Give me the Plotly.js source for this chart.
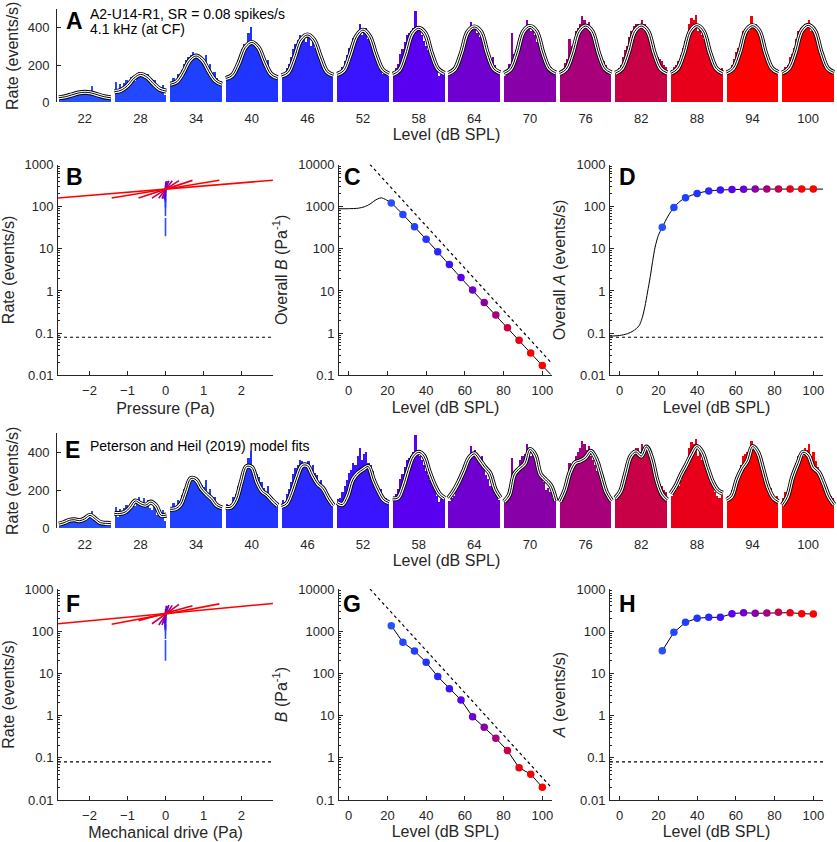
<!DOCTYPE html>
<html>
<head>
<meta charset="utf-8">
<script src="https://cdn.plot.ly/plotly-3.0.1.min.js"></script>
<style>
  body { margin: 0; background: #fff; }
  #chart { width: 837px; height: 842px; }
</style>
</head>
<body>
<div id="chart"></div>
<script>
// sound levels (dB SPL) and the colour used for each level
const levels = [22, 28, 34, 40, 46, 52, 58, 64, 70, 76, 82, 88, 94, 100];
const levelColors = ["#2850ff", "#2448ff", "#2040ff", "#2035ff", "#2a28ff", "#3a14ff", "#5a00f0",
                     "#7000d0", "#8800a8", "#a8007a", "#c80045", "#e8001a", "#ff0000", "#ff0000"];

// period histograms (events/s), one per level, 24 bins over one cycle
const hist22  = [18, 22, 30, 40, 48, 45, 35, 52, 45, 50, 48, 55, 50, 60, 58, 90, 48, 52, 40, 35, 30, 32, 25, 22];
const hist28  = [110, 62, 100, 75, 105, 120, 95, 135, 140, 115, 150, 165, 135, 160, 125, 150, 105, 95, 118, 72, 88, 62, 95, 40];
const hist34  = [100, 132, 96, 150, 145, 175, 205, 228, 245, 255, 268, 262, 250, 242, 230, 215, 252, 180, 205, 150, 165, 130, 102, 112];
const hist40  = [130, 118, 128, 165, 182, 225, 245, 285, 315, 300, 372, 405, 322, 305, 285, 270, 245, 210, 182, 225, 160, 150, 142, 128];
const hist46  = [150, 138, 182, 205, 245, 285, 315, 335, 362, 352, 342, 322, 355, 302, 335, 290, 282, 240, 252, 205, 182, 170, 150, 140];
const hist52  = [152, 160, 192, 222, 252, 292, 305, 345, 332, 382, 422, 362, 392, 402, 342, 332, 302, 262, 222, 182, 205, 152, 162, 140];
const hist58  = [160, 182, 205, 262, 285, 325, 362, 372, 382, 402, 492, 412, 382, 362, 332, 302, 282, 252, 222, 232, 172, 140, 152, 160];
const hist64  = [145, 162, 172, 205, 232, 262, 302, 335, 362, 382, 432, 402, 412, 372, 352, 382, 332, 282, 262, 222, 242, 202, 172, 150];
const hist70  = [142, 152, 205, 372, 262, 282, 312, 362, 382, 392, 442, 422, 382, 402, 362, 322, 302, 272, 242, 202, 212, 192, 162, 172];
const hist76  = [150, 172, 212, 232, 342, 302, 322, 382, 402, 422, 462, 442, 412, 432, 382, 362, 332, 302, 272, 232, 222, 202, 162, 152];
const hist82  = [162, 182, 202, 242, 282, 302, 352, 382, 412, 422, 422, 402, 442, 422, 402, 382, 352, 302, 272, 242, 232, 222, 202, 192];
const hist88  = [172, 192, 202, 222, 252, 292, 332, 362, 422, 452, 442, 472, 382, 402, 362, 342, 302, 282, 252, 222, 192, 172, 162, 182];
const hist94  = [172, 152, 202, 232, 272, 292, 332, 382, 392, 402, 382, 462, 412, 422, 372, 352, 332, 302, 262, 232, 212, 182, 162, 172];
const hist100 = [162, 192, 202, 242, 262, 292, 342, 382, 402, 382, 422, 412, 442, 382, 402, 352, 322, 292, 252, 232, 202, 182, 172, 162];
const histograms = [hist22, hist28, hist34, hist40, hist46, hist52, hist58, hist64, hist70, hist76, hist82, hist88, hist94, hist100];

// panel A fits, sampled at 9 points across the cycle
const fitA = [
  [25, 30, 40, 50, 54, 50, 40, 30, 25],           // 22
  [57, 65, 90, 130, 150, 135, 100, 70, 60],       // 28
  [97, 110, 160, 225, 249, 225, 165, 115, 97],    // 34
  [128, 145, 210, 295, 322, 295, 215, 150, 132],  // 40
  [142, 160, 240, 335, 362, 335, 245, 165, 145],  // 46
  [150, 170, 255, 355, 388, 355, 255, 175, 152],  // 52
  [150, 172, 260, 370, 398, 370, 260, 178, 155],  // 58
  [155, 178, 265, 378, 405, 378, 265, 180, 158],  // 64
  [155, 178, 265, 380, 408, 380, 265, 180, 158],  // 70
  [155, 178, 265, 380, 410, 380, 265, 180, 158],  // 76
  [156, 180, 266, 382, 410, 382, 266, 181, 158],  // 82
  [156, 180, 266, 382, 412, 382, 266, 181, 158],  // 88
  [158, 182, 268, 384, 412, 384, 266, 182, 160],  // 94
  [158, 182, 268, 384, 414, 384, 268, 182, 160]   // 100
];

// panel E model fits, sampled at 11 points across the cycle
const fitE = [
  [22, 30, 42, 45, 40, 50, 68, 50, 30, 26, 25],              // 22
  [78, 78, 85, 110, 144, 130, 122, 138, 118, 68, 70],        // 28
  [100, 103, 125, 195, 262, 255, 210, 180, 155, 120, 108],   // 34
  [110, 112, 150, 245, 325, 320, 245, 195, 175, 145, 120],   // 40
  [115, 130, 190, 270, 330, 330, 280, 235, 210, 160, 120],   // 46
  [135, 125, 170, 255, 290, 310, 325, 255, 195, 150, 135],   // 52
  [155, 160, 220, 310, 380, 400, 380, 300, 230, 180, 158],   // 58
  [158, 195, 245, 305, 370, 392, 360, 322, 290, 205, 160],   // 64
  [140, 175, 285, 315, 340, 415, 385, 285, 255, 225, 145],   // 70
  [140, 200, 295, 345, 355, 372, 405, 365, 280, 190, 145],   // 76
  [158, 195, 290, 380, 402, 380, 428, 370, 255, 180, 150],   // 82
  [182, 225, 285, 335, 390, 430, 400, 320, 245, 200, 185],   // 88
  [148, 170, 255, 315, 355, 430, 400, 310, 215, 160, 140],   // 94
  [122, 167, 270, 340, 400, 385, 320, 295, 235, 165, 125]    // 100
];

// peak pressure (Pa) at each level, and rate range of each fitted line
const pPeak = [0.000356, 0.00071, 0.00142, 0.00283, 0.00564, 0.01126, 0.0225,
               0.0448, 0.0894, 0.178, 0.356, 0.710, 1.417, 2.828];
const rateLoB = [20, 60, 95, 125, 140, 148, 152, 155, 155, 158, 160, 160, 160, 160];
const rateHiB = [54, 150, 250, 322, 362, 388, 398, 405, 410, 412, 415, 420, 422, 424];
const rateLoF = [20, 65, 100, 110, 115, 125, 155, 155, 140, 140, 150, 178, 146, 150];
const rateHiF = [62, 145, 268, 335, 330, 330, 400, 395, 420, 410, 430, 403, 445, 455];
const spontRate = 0.08;

// overall B and A (panels C, D) and model B and A (panels G, H)
const overallB = [1217, 656, 335, 168, 85, 42.3, 21, 10.6, 5.3, 2.7, 1.34, 0.68, 0.34, 0.17];
const overallA = [32.5, 96, 163, 206, 235, 247, 256, 260, 261, 261, 261, 261, 261, 261];
const modelB = [1350, 545, 340, 183, 84, 43.5, 23.5, 9.4, 5.3, 2.9, 1.48, 0.58, 0.41, 0.20];
const modelA = [34.6, 94, 162, 202, 213, 213, 260, 275, 265, 270, 280, 275, 260, 255];

// smooth fitted curves in C and D
const curveCx = [-5, 0, 5, 8, 11, 13, 15, 17, 19, 22, 40, 60, 80, 100, 104.3];
const curveCy = [890, 895, 920, 990, 1150, 1350, 1530, 1620, 1480, 1217, 168, 16.2, 1.66, 0.17, 0.105];
const curveDx = [-5, 0, 4, 7, 10, 11.5, 13, 14.4, 15.8, 17, 18.3, 20, 22, 25, 28, 31, 34, 40, 46, 52, 60, 70, 105];
const curveDy = [0.085, 0.088, 0.097, 0.113, 0.15, 0.22, 0.42, 0.95, 2.2, 5, 11, 21, 32.5, 60, 96, 132, 163, 206, 235, 247, 256, 260, 261];

// 1/p reference line in C and G
const refX = [11, 105];
const refY = [10000, 0.19];

const W = 837, H = 842;
const FONT = "Liberation Sans, Arial, Helvetica, sans-serif";
const INK = "#262626";
const px = (a, b) => [a / W, b / W];
const py = (top, bottom) => [1 - bottom / H, 1 - top / H];

const groupW = 0.93;
const traces = [];

function histPanel(xa, ya, fits) {
  const x = [], y = [], c = [];
  histograms.forEach((h, i) => {
    h.forEach((v, j) => {
      x.push(i - groupW / 2 + (j + 0.5) * groupW / h.length);
      y.push(v);
      c.push(levelColors[i]);
    });
  });
  traces.push({ type: "bar", x, y, width: groupW / hist22.length, xaxis: xa, yaxis: ya,
                marker: { color: c, line: { width: 0 } }, hoverinfo: "skip", showlegend: false });

  const fx = [], fy = [];
  fits.forEach((f, i) => {
    f.forEach((v, k) => {
      fx.push(i - groupW / 2 + k * groupW / (f.length - 1));
      fy.push(v);
    });
    fx.push(null); fy.push(null);
  });
  [["black", 5], ["white", 3.2], ["black", 1]].forEach(([col, w]) => {
    traces.push({ type: "scatter", mode: "lines", x: fx, y: fy, xaxis: xa, yaxis: ya,
                  line: { color: col, width: w, shape: "spline", smoothing: 1 },
                  connectgaps: false, hoverinfo: "skip", showlegend: false });
  });
}

function linePanel(xa, ya, lo, hi) {
  traces.push({ type: "scatter", mode: "lines", x: [-2.83, 2.83], y: [spontRate, spontRate],
                xaxis: xa, yaxis: ya, line: { color: "black", width: 1.2, dash: "dot" },
                hoverinfo: "skip", showlegend: false });
  levels.forEach((lv, i) => {
    traces.push({ type: "scatter", mode: "lines", x: [-pPeak[i], pPeak[i]], y: [lo[i], hi[i]],
                  xaxis: xa, yaxis: ya, line: { color: levelColors[i], width: 1.6 },
                  hoverinfo: "skip", showlegend: false });
  });
}

function dots(xa, ya, vals, joined) {
  traces.push({ type: "scatter", mode: joined ? "lines+markers" : "markers", x: levels, y: vals,
                xaxis: xa, yaxis: ya, line: { color: "black", width: 1 },
                marker: { color: levelColors, size: 7.5 }, hoverinfo: "skip", showlegend: false });
}

function dotted(xa, ya, x, y) {
  traces.push({ type: "scatter", mode: "lines", x, y, xaxis: xa, yaxis: ya,
                line: { color: "black", width: 1.2, dash: "dot" }, hoverinfo: "skip", showlegend: false });
}

function curve(xa, ya, x, y) {
  traces.push({ type: "scatter", mode: "lines", x, y, xaxis: xa, yaxis: ya,
                line: { color: "black", width: 1, shape: "spline", smoothing: 0.8 },
                hoverinfo: "skip", showlegend: false });
}

// A and E
histPanel("x", "y", fitA);
histPanel("x5", "y5", fitE);
// B and F
linePanel("x2", "y2", rateLoB, rateHiB);
linePanel("x6", "y6", rateLoF, rateHiF);
// C
dotted("x3", "y3", refX, refY);
curve("x3", "y3", curveCx, curveCy);
dots("x3", "y3", overallB, false);
// D
dotted("x4", "y4", [-5, 105], [spontRate, spontRate]);
curve("x4", "y4", curveDx, curveDy);
dots("x4", "y4", overallA, false);
// G
dotted("x7", "y7", refX, refY);
dots("x7", "y7", modelB, true);
// H
dotted("x8", "y8", [-5, 105], [spontRate, spontRate]);
dots("x8", "y8", modelA, true);

const base = {
  showline: true, linecolor: INK, linewidth: 1, mirror: false,
  ticks: "inside", ticklen: 4, tickcolor: INK, tickwidth: 1,
  tickfont: { size: 13, color: INK, family: FONT },
  showgrid: false, zeroline: false, automargin: false, fixedrange: true
};
const ttl = (text, standoff) => ({ text, standoff, font: { size: 16, color: INK, family: FONT } });

function logY(range, labels, title, anchor, domain) {
  return Object.assign({}, base, {
    type: "log", range, anchor, domain,
    tickvals: labels.map(Number), ticktext: labels, ticklabelstandoff: 1,
    minor: { ticks: "inside", ticklen: 2, tickcolor: INK, dtick: "D1", showgrid: false },
    title: ttl(title, 6)
  });
}
function levelX(anchor, domain) {
  return Object.assign({}, base, {
    range: [-5, 105], anchor, domain, tickvals: [0, 20, 40, 60, 80, 100],
    ticklabelstandoff: 3, title: ttl("Level (dB SPL)", 4)
  });
}
function pressX(anchor, domain, title) {
  return Object.assign({}, base, {
    range: [-2.83, 2.83], anchor, domain, tickvals: [-2, -1, 0, 1, 2],
    ticklabelstandoff: 3, title: ttl(title, 5)
  });
}
function histX(anchor, domain) {
  return Object.assign({}, base, {
    range: [-0.5, 13.5], anchor, domain, showline: false, ticks: "",
    tickvals: levels.map((l, i) => i), ticktext: levels.map(String),
    ticklabelstandoff: 7, title: ttl("Level (dB SPL)", 1)
  });
}
function histY(anchor, domain) {
  return Object.assign({}, base, {
    range: [0, 500], anchor, domain, tickvals: [0, 200, 400],
    ticklabelstandoff: 4, title: ttl("Rate (events/s)", 5)
  });
}

const decades3 = ["0.01", "0.1", "1", "10", "100", "1000"];
const decades4 = ["0.1", "1", "10", "100", "1000", "10000"];

const colB = px(58, 273), colC = px(339, 552), colD = px(610, 823);
const rowA = py(9.3, 102.3), rowB = py(164.5, 375.3), rowE = py(433.3, 528.3), rowF = py(589, 800);

const ann = (x, y, text, size, anchorX) => ({
  xref: "paper", yref: "paper", x: x / W, y: 1 - y / H, text, showarrow: false,
  xanchor: anchorX || "center", yanchor: "middle", font: { size, color: "black", family: FONT }
});

const layout = {
  width: W, height: H,
  margin: { l: 0, r: 0, t: 0, b: 0 },
  paper_bgcolor: "white", plot_bgcolor: "rgba(0,0,0,0)",
  showlegend: false, bargap: 0,
  font: { family: FONT, color: INK },
  xaxis: histX("y", px(57, 836)),
  yaxis: histY("x", rowA),
  xaxis2: pressX("y2", colB, "Pressure (Pa)"),
  yaxis2: logY([-2, 3], decades3, "Rate (events/s)", "x2", rowB),
  xaxis3: levelX("y3", colC),
  yaxis3: logY([-1, 4], decades4, "Overall <i>B</i> (Pa<sup>-1</sup>)", "x3", rowB),
  xaxis4: levelX("y4", colD),
  yaxis4: logY([-2, 3], decades3, "Overall <i>A</i> (events/s)", "x4", rowB),
  xaxis5: histX("y5", px(57, 836)),
  yaxis5: histY("x5", rowE),
  xaxis6: pressX("y6", colB, "Mechanical drive (Pa)"),
  yaxis6: logY([-2, 3], decades3, "Rate (events/s)", "x6", rowF),
  xaxis7: levelX("y7", colC),
  yaxis7: logY([-1, 4], decades4, "<i>B</i> (Pa<sup>-1</sup>)", "x7", rowF),
  xaxis8: levelX("y8", colD),
  yaxis8: logY([-2, 3], decades3, "<i>A</i> (events/s)", "x8", rowF),
  annotations: [
    ann(74, 20.5, "<b>A</b>", 23),
    ann(88, 14, "A2-U14-R1, SR = 0.08 spikes/s", 14, "left"),
    ann(88, 29, "4.1 kHz (at CF)", 14, "left"),
    ann(74, 177, "<b>B</b>", 23),
    ann(352, 177, "<b>C</b>", 23),
    ann(627, 177, "<b>D</b>", 23),
    ann(72, 450, "<b>E</b>", 23),
    ann(88, 446, "Peterson and Heil (2019) model fits", 14, "left"),
    ann(73, 604, "<b>F</b>", 23),
    ann(352, 604, "<b>G</b>", 23),
    ann(627, 604, "<b>H</b>", 23)
  ]
};

Plotly.newPlot("chart", traces, layout, { displayModeBar: false, staticPlot: true });
</script>
</body>
</html>
